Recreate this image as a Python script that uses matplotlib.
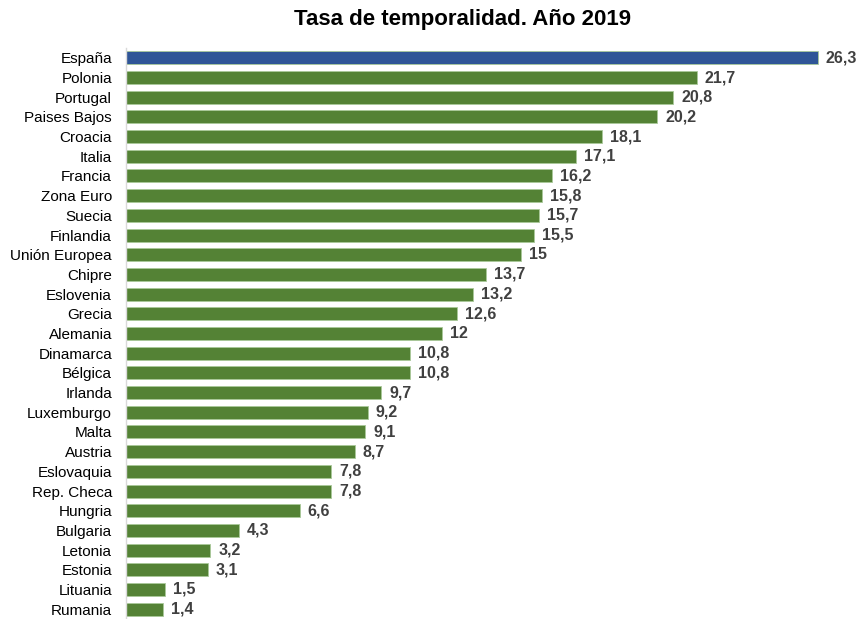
import matplotlib.pyplot as plt

plt.rcParams['font.family'] = ['Liberation Sans', 'DejaVu Sans']

paises = ['España', 'Polonia', 'Portugal', 'Paises Bajos', 'Croacia', 'Italia',
          'Francia', 'Zona Euro', 'Suecia', 'Finlandia', 'Unión Europea', 'Chipre',
          'Eslovenia', 'Grecia', 'Alemania', 'Dinamarca', 'Bélgica', 'Irlanda',
          'Luxemburgo', 'Malta', 'Austria', 'Eslovaquia', 'Rep. Checa', 'Hungria',
          'Bulgaria', 'Letonia', 'Estonia', 'Lituania', 'Rumania']
tasa = [26.3, 21.7, 20.8, 20.2, 18.1, 17.1, 16.2, 15.8, 15.7, 15.5, 15, 13.7,
        13.2, 12.6, 12, 10.8, 10.8, 9.7, 9.2, 9.1, 8.7, 7.8, 7.8, 6.6, 4.3,
        3.2, 3.1, 1.5, 1.4]

colores = ['#2F5597' if p == 'España' else '#548235' for p in paises]

fig = plt.figure(figsize=(8.57, 6.19), dpi=100)
ax = fig.add_axes([126 / 857, 0, (845 - 126) / 857, (619 - 48) / 619])

y = list(range(len(paises)))
ax.barh(y, tasa, height=0.66, color=colores, edgecolor='#A9C99A', linewidth=0.6)

for yi, v in zip(y, tasa):
    txt = f'{v:g}'.replace('.', ',')
    ax.text(v + 0.3, yi, txt, va='center', ha='left', fontsize=11.5,
            fontweight='bold', color='#404040')

ax.set_ylim(len(paises) - 0.5, -0.5)
ax.set_xlim(0, 27.33)
ax.set_yticks(y)
ax.set_yticklabels(paises, fontsize=11, color='black')
ax.set_xticks([])
ax.tick_params(axis='y', length=0, pad=10)
for s in ['top', 'right', 'bottom']:
    ax.spines[s].set_visible(False)
ax.spines['left'].set_color('#D9D9D9')
ax.spines['left'].set_linewidth(1)

fig.text(463 / 857, 1 - 19 / 619, 'Tasa de temporalidad. Año 2019', ha='center',
         va='center', fontsize=16, fontweight='bold')

fig.savefig('out.png', dpi=100)
